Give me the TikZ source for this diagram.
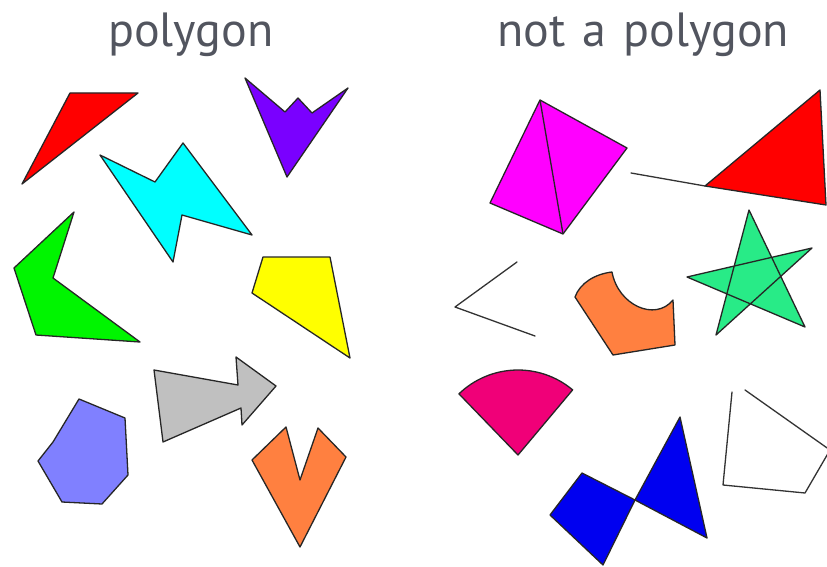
\documentclass[tikz,border=0pt]{standalone}
\usepackage{fontspec}
\setmainfont{PT Sans}
\newfontfamily\titlefont[WordSpace=1.35]{PT Sans}
\definecolor{titlegray}{RGB}{82,85,95}
\definecolor{pRed}{RGB}{255,0,0}
\definecolor{pPurple}{RGB}{122,0,255}
\definecolor{pCyan}{RGB}{0,255,255}
\definecolor{pGreen}{RGB}{0,245,0}
\definecolor{pYellow}{RGB}{255,255,0}
\definecolor{pGray}{RGB}{192,192,192}
\definecolor{pViolet}{RGB}{128,128,255}
\definecolor{pOrange}{RGB}{255,128,64}
\definecolor{pMagenta}{RGB}{255,0,255}
\definecolor{pStar}{RGB}{40,235,135}
\definecolor{pPink}{RGB}{240,0,120}
\definecolor{pBlue}{RGB}{0,0,240}
\begin{document}
\begin{tikzpicture}[x=1pt,y=-1pt,
  polyshape/.style={draw=black!85,line width=1.3pt,line join=round},
  openline/.style={draw=black!80,line width=1.3pt,line cap=round,line join=round},
  title/.style={anchor=base west,inner sep=0pt,text=titlegray,font=\titlefont\fontsize{48}{52}\selectfont}]
\useasboundingbox (0,0) rectangle (827,567);
\clip (0,0) rectangle (827,567);
\fill[white] (0,0) rectangle (827,567);
% titles
\node[title] (t1) at (108,47) {polygon};
\node[title] (t2) at (497,47) {not a polygon};
% ---- polygons ----
\filldraw[polyshape,fill=pRed] (70,93) -- (138,93) -- (22,184) -- cycle;
\filldraw[polyshape,fill=pPurple] (245,78) -- (285,112) -- (298,98) -- (312,113) -- (348,88) -- (287,177) -- cycle;
\filldraw[polyshape,fill=pCyan] (100,155) -- (155,182) -- (183,143) -- (252,235) -- (182,215) -- (173,262) -- cycle;
\filldraw[polyshape,fill=pGreen] (74,212) -- (14,268) -- (36,335) -- (140,342) -- (53,278) -- cycle;
\filldraw[polyshape,fill=pYellow] (263,257) -- (330,257) -- (350,358) -- (252,293) -- cycle;
\filldraw[polyshape,fill=pGray] (154,370) -- (238,385) -- (236,357) -- (276,386) -- (242,425) -- (241,408) -- (163,442) -- cycle;
\filldraw[polyshape,fill=pViolet] (79,399) -- (125,418) -- (128,475) -- (102,504) -- (62,502) -- (38,461) -- (53,442) -- cycle;
\filldraw[polyshape,fill=pOrange] (252,460) -- (286,427) -- (300,480) -- (318,428) -- (346,457) -- (300,547) -- cycle;
% ---- not polygons ----
\filldraw[polyshape,fill=pMagenta] (540,100) -- (627,148) -- (563,234) -- (490,203) -- cycle;
\draw[polyshape] (540,100) -- (563,234);
\filldraw[polyshape,fill=pRed] (705,186) -- (820,90) -- (826,205) -- cycle;
\draw[openline] (631,173) -- (705,186);
\filldraw[polyshape,fill=pStar] (749,210) -- (716,335) -- (812,248) -- (687,277) -- (805,327) -- cycle;
\draw[openline] (517,262) -- (455,307) -- (535,336);
\filldraw[polyshape,fill=pOrange] (575,297) .. controls (580,283) and (595,274) .. (612,272)
  .. controls (618,305) and (655,322) .. (673,300) -- (675,345) -- (613,355) -- cycle;
\filldraw[polyshape,fill=pPink] (518,455) -- ++(-134:85) arc[start angle=-134,end angle=-50,radius=85] -- cycle;
\filldraw[polyshape,fill=pBlue] (582,473) -- (635,500) -- (603,565) -- (550,515) -- cycle;
\filldraw[polyshape,fill=pBlue] (635,500) -- (680,417) -- (707,538) -- cycle;
\draw[openline] (732,392) -- (723,485) -- (805,493) -- (830,450) -- (745,390);
\end{tikzpicture}
\end{document}
